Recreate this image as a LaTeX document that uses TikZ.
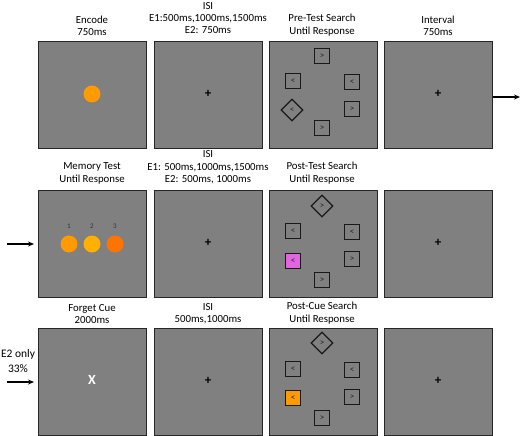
\documentclass[tikz,border=0pt]{standalone}
\usepackage{fontspec}
\setmainfont{Carlito}
\usetikzlibrary{arrows.meta,shapes.geometric}
\definecolor{panelgray}{HTML}{808080}
\definecolor{edgegray}{HTML}{262626}
\definecolor{orA}{HTML}{FF9A00}
\definecolor{orB}{HTML}{FFB000}
\definecolor{orC}{HTML}{FF7300}
\definecolor{pinkk}{HTML}{E066E0}
\begin{document}
\begin{tikzpicture}[x=1pt,y=-1pt,
  panel/.style={draw=edgegray, line width=1.3pt, fill=panelgray, minimum width=108pt, minimum height=107pt, inner sep=0pt, anchor=north west},
  ttl/.style={align=center, font=\fontsize{10.8}{12.3}\selectfont, anchor=south, inner sep=0pt},
  fix/.style={font=\bfseries\fontsize{13}{13}\selectfont, inner sep=0pt},
  item/.style={draw=black!90, line width=1.3pt, fill=panelgray, minimum size=15pt, inner sep=0pt, font=\fontsize{9}{9}\selectfont, text=black!85},
  ditem/.style={diamond, draw=black!90, line width=1.3pt, fill=panelgray, minimum size=22pt, inner sep=0pt, font=\fontsize{9}{9}\selectfont, text=black!85},
  disc/.style={circle, minimum size=17pt, inner sep=0pt},
  num/.style={font=\fontsize{7}{7}\selectfont, text=black!80, inner sep=0pt},
  flow/.style={-{Stealth[length=6pt,width=5pt]}, line width=1.1pt}
]
\useasboundingbox (0,0) rectangle (520,436);
% ---------- row 1
\node[panel] (p11) at (38,41) {};
\node[panel] (p12) at (153.5,41) {};
\node[panel] (p13) at (268.5,41) {};
\node[panel] (p14) at (383.5,41) {};
\node[ttl] (t11) at (92,36) {Encode\\750ms};
\node[ttl] (t12) at (208,34) {ISI\\E1:500ms,1000ms,1500ms\\E2: 750ms};
\node[ttl] (t13) at (322,36) {Pre-Test Search\\Until Response};
\node[ttl] (t14) at (438,36) {Interval\\750ms};
\node[disc, fill=orA] (enc) at (92,94) {};
\node[fix] (f12) at (208,94) {+};
\node[item] (a1) at (322,56) {>};
\node[item] (a2) at (293,81) {<};
\node[item] (a3) at (352,82) {<};
\node[ditem] (a4) at (292,110) {<};
\node[item] (a5) at (352,109) {>};
\node[item] (a6) at (322,128) {>};
\node[fix] (f14) at (438,94) {+};
\coordinate (o1a) at (493,97);
\coordinate (o1b) at (520,97);
\draw[flow] (o1a) -- (o1b);
% ---------- row 2
\node[panel] (p21) at (38,190) {};
\node[panel] (p22) at (153.5,190) {};
\node[panel] (p23) at (268.5,190) {};
\node[panel] (p24) at (383.5,190) {};
\node[ttl] (t21) at (92,184) {Memory Test\\Until Response};
\node[ttl] (t22) at (208,184) {ISI\\E1: 500ms,1000ms,1500ms\\E2: 500ms, 1000ms};
\node[ttl] (t23) at (322,184) {Post-Test Search\\Until Response};
\node[disc, fill=orA] (m1) at (69,244) {};
\node[disc, fill=orB] (m2) at (92,244) {};
\node[disc, fill=orC] (m3) at (115,244) {};
\node[num] (n1) at (69,226) {1};
\node[num] (n2) at (92,226) {2};
\node[num] (n3) at (115,226) {3};
\node[fix] (f22) at (208,243) {+};
\node[ditem] (b1) at (322,206) {>};
\node[item] (b2) at (293,231) {<};
\node[item] (b3) at (352,232) {<};
\node[item, fill=pinkk] (b4) at (293,261) {<};
\node[item] (b5) at (352,259) {>};
\node[item] (b6) at (322,280) {>};
\node[fix] (f24) at (438,243) {+};
\coordinate (i2a) at (7,244);
\coordinate (i2b) at (34,244);
\draw[flow] (i2a) -- (i2b);
% ---------- row 3
\node[panel] (p31) at (38,328) {};
\node[panel] (p32) at (153.5,328) {};
\node[panel] (p33) at (268.5,328) {};
\node[panel] (p34) at (383.5,328) {};
\node[ttl] (t31) at (92,324) {Forget Cue\\2000ms};
\node[ttl] (t32) at (208,324) {ISI\\500ms,1000ms};
\node[ttl] (t33) at (322,324) {Post-Cue Search\\Until Response};
\node[font=\bfseries\fontsize{14}{14}\selectfont, text=white, inner sep=0pt] (xc) at (92,380) {X};
\node[fix] (f32) at (208,381) {+};
\node[ditem] (c1) at (322,343) {>};
\node[item] (c2) at (293,369) {<};
\node[item] (c3) at (352,370) {<};
\node[item, fill=orA] (c4) at (293,398) {<};
\node[item] (c5) at (352,397) {>};
\node[item] (c6) at (322,418) {>};
\node[fix] (f34) at (438,381) {+};
\node[align=center, font=\fontsize{11.5}{14.5}\selectfont, inner sep=0pt] (e2) at (18,361) {E2 only\\33\%};
\coordinate (i3a) at (7,382);
\coordinate (i3b) at (34,382);
\draw[flow] (i3a) -- (i3b);
\end{tikzpicture}
\end{document}
